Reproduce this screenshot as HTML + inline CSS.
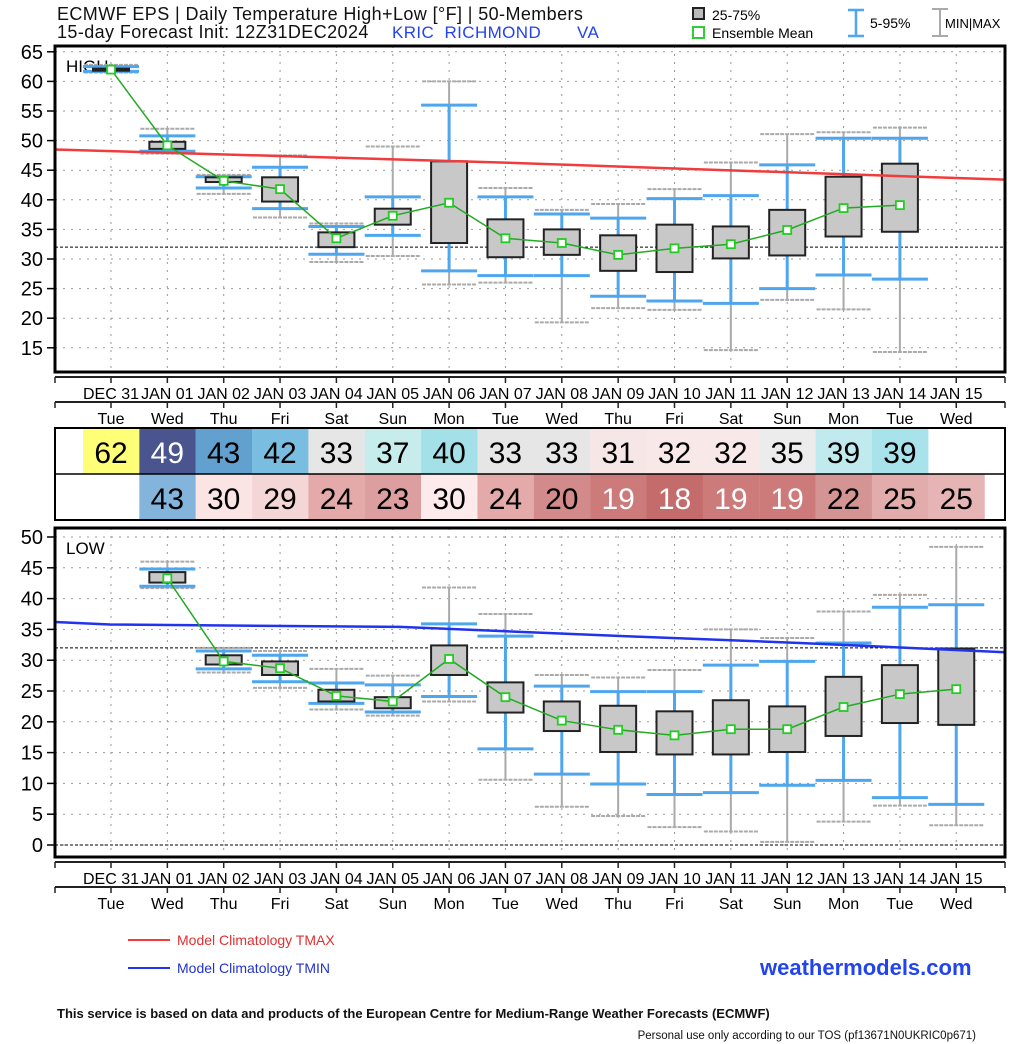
<!DOCTYPE html>
<html><head><meta charset="utf-8"><style>
body{margin:0;background:#fff;}
svg{display:block;font-family:"Liberation Sans","DejaVu Sans",sans-serif;}
</style></head><body>
<svg id="s" width="1024" height="1044" xmlns="http://www.w3.org/2000/svg"></svg>
<script>
const S=document.getElementById('s');let h='';
const X0=55,X1=1005;const cx=i=>111+56.35*i;
const yH=v=>259-(v-30)*5.92, yL=v=>845-v*6.16;
h+=`<text x="57" y="20" font-size="18" letter-spacing="0.4" fill="#111">ECMWF EPS | Daily Temperature High+Low [°F] | 50-Members</text>`;
h+=`<text x="57" y="38" font-size="18" letter-spacing="0.4" fill="#111">15-day Forecast Init: 12Z31DEC2024</text>`;
h+=`<text x="392" y="38" font-size="17" letter-spacing="0.4" fill="#2244ee" xml:space="preserve">KRIC  RICHMOND       VA</text>`;
h+=`<rect x="693" y="8" width="11" height="11" fill="#bbb" stroke="#222" stroke-width="2"/><text x="712" y="20" font-size="14">25-75%</text>`;
h+=`<rect x="693" y="27" width="11" height="11" fill="#fff" stroke="#3c3" stroke-width="2"/><text x="712" y="38" font-size="14">Ensemble Mean</text>`;
h+=`<path d="M856 10V36M848 10H864M848 36H864" stroke="#4da6ee" stroke-width="2.5" fill="none"/><text x="870" y="28" font-size="14">5-95%</text>`;
h+=`<path d="M940 9V36M932 9H948M932 36H948" stroke="#aaa" stroke-width="2" fill="none"/><text x="945" y="28" font-size="13">MIN|MAX</text>`;
function panel(top,bot,yf,ticks,lab,data,climo,ccol){
  let g='';
  for(const t of ticks){const y=yf(t);g+=`<line x1="${X0}" x2="${X1}" y1="${y}" y2="${y}" stroke="#999" stroke-dasharray="2,6"/><line x1="47" x2="${X0}" y1="${y}" y2="${y}" stroke="#000" stroke-width="1.5"/><text x="43" y="${y+7}" font-size="20" text-anchor="end">${t}</text>`;}
  for(let i=0;i<16;i++){g+=`<line x1="${cx(i)}" x2="${cx(i)}" y1="${top}" y2="${bot}" stroke="#999" stroke-dasharray="2,6"/>`;}
  const y32=yf(32);g+=`<line x1="${X0}" x2="${X1}" y1="${y32}" y2="${y32}" stroke="#000" stroke-dasharray="3,2"/>`;
  if(yf===yL){const y0=yf(0);g+=`<line x1="${X0}" x2="${X1}" y1="${y0}" y2="${y0}" stroke="#000" stroke-dasharray="3,2"/>`;}
  g+=`<text x="66" y="${top+26}" font-size="17">${lab}</text>`;
  let pts=[];
  for(const [i,mn,p5,q25,m,q75,p95,mx] of data){const c=cx(i);
    g+=`<line x1="${c}" x2="${c}" y1="${yf(mn)}" y2="${yf(mx)}" stroke="#aaa" stroke-width="2"/>`;
    g+=`<line x1="${c-27}" x2="${c+27}" y1="${yf(mn)}" y2="${yf(mn)}" stroke="#aaa" stroke-width="2" stroke-dasharray="4,1"/><line x1="${c-27}" x2="${c+27}" y1="${yf(mx)}" y2="${yf(mx)}" stroke="#aaa" stroke-width="2" stroke-dasharray="4,1"/>`;
    g+=`<line x1="${c}" x2="${c}" y1="${yf(p5)}" y2="${yf(p95)}" stroke="#4da6ee" stroke-width="3"/>`;
    g+=`<line x1="${c-28}" x2="${c+28}" y1="${yf(p5)}" y2="${yf(p5)}" stroke="#4da6ee" stroke-width="3"/><line x1="${c-28}" x2="${c+28}" y1="${yf(p95)}" y2="${yf(p95)}" stroke="#4da6ee" stroke-width="3"/>`;
    const bt=yf(q75),bb=yf(q25);g+=`<rect x="${c-18}" y="${bt}" width="36" height="${Math.max(bb-bt,2)}" fill="${bb-bt<3?'#222':'#c8c8c8'}" stroke="#222" stroke-width="2"/>`;
    pts.push([c,yf(m)]);}
  g+=`<polyline points="${climo.map(p=>p[0]+','+yf(p[1])).join(' ')}" stroke="${ccol}" stroke-width="2.5" fill="none"/>`;
  g+=`<polyline points="${pts.map(p=>p.join(',')).join(' ')}" stroke="#2a2" stroke-width="1.5" fill="none"/>`;
  for(const p of pts)g+=`<rect x="${p[0]-4}" y="${p[1]-4}" width="8" height="8" fill="#fff" stroke="#2c2" stroke-width="1.8"/>`;
  g+=`<rect x="${X0}" y="${top}" width="${X1-X0}" height="${bot-top}" fill="none" stroke="#000" stroke-width="3"/>`;
  return g;}
const H=[[0,61.5,61.7,61.85,62,62.15,62.5,62.8],[1,47.8,48.2,48.6,49.2,49.8,50.8,52],[2,41,42,43,43.2,43.8,43.9,44.2],[3,37,38.5,39.7,41.8,43.8,45.5,47.5],[4,29.5,30.8,32,33.5,34.5,35.5,36],[5,30.5,34,35.8,37.3,38.5,40.5,49],[6,25.7,28,32.7,39.5,46.5,56,60],[7,26,27.2,30.3,33.5,36.7,40.5,42],[8,19.3,27.2,30.7,32.7,35,37.6,38.3],[9,21.7,23.7,28,30.7,34,36.9,39.3],[10,21.4,22.9,27.8,31.8,35.8,40.2,41.8],[11,14.6,22.5,30.1,32.5,35.5,40.7,46.3],[12,23.1,25,30.6,34.9,38.3,45.9,51.1],[13,21.5,27.3,33.8,38.6,43.9,50.4,51.4],[14,14.3,26.6,34.6,39.1,46.1,50.4,52.2]];
const L=[[1,41.7,42,42.6,43.3,44.3,44.8,46],[2,28,28.6,29.3,29.8,30.8,31.5,32],[3,25.5,26.5,27.6,28.7,29.8,30.8,31.5],[4,22,23,23.3,24.2,25.2,26.3,28.6],[5,21,21.6,22.2,23.3,24,26,27.5],[6,23.3,24.1,27.6,30.2,32.4,35.9,41.8],[7,10.6,15.6,21.5,24,26.4,33.9,37.5],[8,6.2,11.5,18.5,20.2,23.3,25.8,27.6],[9,4.7,9.9,15.1,18.7,22.6,24.9,27.2],[10,2.9,8.2,14.7,17.8,21.7,24.9,28.4],[11,2.2,8.5,14.7,18.8,23.5,29.2,35],[12,0.5,9.7,15.1,18.8,22.5,29.8,33.6],[13,3.8,10.5,17.7,22.4,27.3,32.8,37.9],[14,6.4,7.7,19.8,24.5,29.2,38.6,40.6],[15,3.2,6.6,19.5,25.3,31.9,39,48.4]];
h+=panel(46,372,yH,[65,60,55,50,45,40,35,30,25,20,15],'HIGH',H,[[55,48.5],[500,46.3],[1005,43.4]],'#f03c3c');
h+=panel(528,857,yL,[50,45,40,35,30,25,20,15,10,5,0],'LOW',L,[[55,36.2],[110,35.8],[400,35.4],[640,33.8],[800,32.8],[1005,31.3]],'#2233ee');
const D=['DEC 31','JAN 01','JAN 02','JAN 03','JAN 04','JAN 05','JAN 06','JAN 07','JAN 08','JAN 09','JAN 10','JAN 11','JAN 12','JAN 13','JAN 14','JAN 15'];
const W=['Tue','Wed','Thu','Fri','Sat','Sun','Mon','Tue','Wed','Thu','Fri','Sat','Sun','Mon','Tue','Wed'];
function axis(y){let g=`<line x1="${X0}" x2="${X1}" y1="${y}" y2="${y}" stroke="#222" stroke-width="2"/><line x1="${X0}" x2="${X1}" y1="${y+25}" y2="${y+25}" stroke="#222" stroke-width="2"/>`;
  const xs=[X0,X1];for(let i=0;i<16;i++)xs.push(cx(i));
  for(const x of xs){g+=`<line x1="${x}" x2="${x}" y1="${y}" y2="${y+6}" stroke="#222" stroke-width="1.5"/><line x1="${x}" x2="${x}" y1="${y+25}" y2="${y+31}" stroke="#222" stroke-width="1.5"/>`;}
  for(let i=0;i<16;i++){g+=`<text x="${cx(i)}" y="${y+22}" font-size="16" text-anchor="middle">${D[i]}</text><text x="${cx(i)}" y="${y+47}" font-size="16" text-anchor="middle">${W[i]}</text>`;}
  return g;}
h+=axis(377);h+=axis(862);
const TH=[[62,'#ffff77',0],[49,'#4a5590',1],[43,'#62a0cf',0],[42,'#79bde0',0],[33,'#e6e6e6',0],[37,'#c6ecec',0],[40,'#a3e0e8',0],[33,'#e6e6e6',0],[33,'#e6e6e6',0],[31,'#f7e6e6',0],[32,'#f8e8e8',0],[32,'#f8e8e8',0],[35,'#ececec',0],[39,'#c0eaee',0],[39,'#a8e2ea',0]];
const TL=[[43,'#82b4dc',0],[30,'#fbe4e4',0],[29,'#f5d6d6',0],[24,'#e4aaaa',0],[23,'#dc9e9e',0],[30,'#fdeaea',0],[24,'#e4aaaa',0],[20,'#d28a8a',0],[19,'#cc7a7a',1],[18,'#c46c6c',1],[19,'#cc7a7a',1],[19,'#cc7a7a',1],[22,'#d49494',0],[25,'#e2acac',0],[25,'#e6b4b4',0]];
TH.forEach((t,i)=>{const x=cx(i)-28;h+=`<rect x="${x}" y="428" width="56.5" height="46" fill="${t[1]}"/><text x="${cx(i)}" y="463" font-size="30" text-anchor="middle" fill="${t[2]?'#fff':'#000'}">${t[0]}</text>`;});
TL.forEach((t,i)=>{const x=cx(i+1)-28;h+=`<rect x="${x}" y="474" width="56.5" height="46" fill="${t[1]}"/><text x="${cx(i+1)}" y="509" font-size="30" text-anchor="middle" fill="${t[2]?'#fff':'#000'}">${t[0]}</text>`;});
h+=`<rect x="${X0}" y="428" width="${X1-X0}" height="92" fill="none" stroke="#000" stroke-width="2"/><line x1="${X0}" x2="${X1}" y1="474" y2="474" stroke="#000" stroke-width="1.5"/>`;
h+=`<line x1="128" x2="170" y1="940" y2="940" stroke="#f03c3c" stroke-width="2"/><text x="177" y="945" font-size="14" fill="#e03030">Model Climatology TMAX</text>`;
h+=`<line x1="128" x2="170" y1="968" y2="968" stroke="#2233ee" stroke-width="2"/><text x="177" y="973" font-size="14" fill="#2233cc">Model Climatology TMIN</text>`;
h+=`<text x="760" y="975" font-size="22" font-weight="bold" fill="#2244ee">weathermodels.com</text>`;
h+=`<text x="57" y="1018" font-size="13" font-weight="bold" fill="#111">This service is based on data and products of the European Centre for Medium-Range Weather Forecasts (ECMWF)</text>`;
h+=`<text x="976" y="1039" font-size="11.5" text-anchor="end" fill="#111">Personal use only according to our TOS (pf13671N0UKRIC0p671)</text>`;
S.innerHTML=h;
</script>
</body></html>
